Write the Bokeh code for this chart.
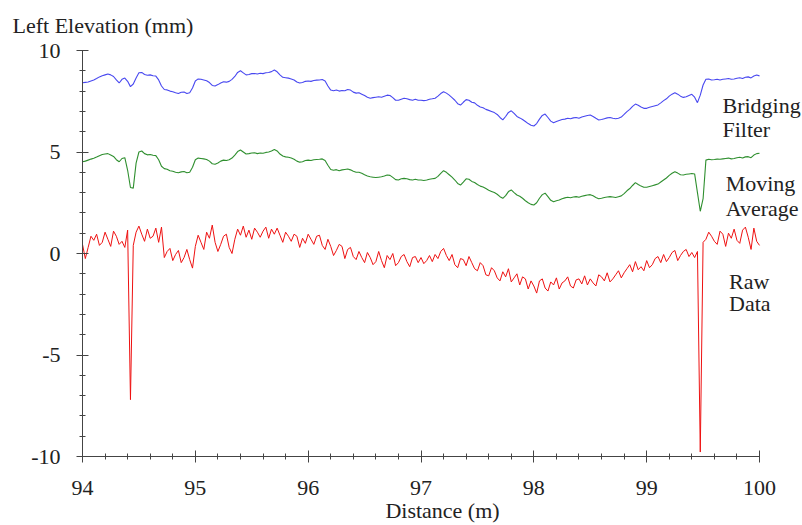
from bokeh.plotting import figure
from bokeh.models import Range1d, SingleIntervalTicker
from bokeh.core.properties import value
from bokeh.embed import file_html
from bokeh.resources import INLINE

# ---------------- data ----------------
x_start = 94.0
x_step = 0.025

bridging_filter = [
    8.41, 8.43, 8.45, 8.50, 8.55, 8.62, 8.70, 8.76, 8.80, 8.84, 8.80, 8.72, 8.55, 8.40, 8.58, 8.64, 8.48, 8.22, 8.35, 8.65,
    8.90, 8.92, 8.82, 8.78, 8.80, 8.76, 8.74, 8.55, 8.25, 8.08, 8.06, 8.00, 7.97, 7.92, 7.88, 7.94, 7.95, 7.88, 7.92, 8.15,
    8.50, 8.60, 8.58, 8.55, 8.51, 8.42, 8.28, 8.25, 8.32, 8.40, 8.46, 8.44, 8.48, 8.58, 8.72, 8.92, 9.00, 8.90, 8.80, 8.82,
    8.86, 8.87, 8.84, 8.88, 8.86, 8.90, 8.92, 8.96, 9.04, 8.95, 8.80, 8.68, 8.66, 8.64, 8.60, 8.55, 8.45, 8.40, 8.42, 8.48,
    8.50, 8.48, 8.52, 8.54, 8.55, 8.57, 8.50, 8.25, 8.05, 8.02, 8.05, 8.00, 8.03, 8.02, 8.08, 8.05, 7.95, 7.90, 7.92, 7.85,
    7.78, 7.70, 7.65, 7.68, 7.70, 7.72, 7.70, 7.75, 7.80, 7.78, 7.68, 7.55, 7.55, 7.60, 7.65, 7.62, 7.58, 7.55, 7.60, 7.55,
    7.55, 7.53, 7.55, 7.60, 7.62, 7.65, 7.75, 7.88, 7.97, 7.90, 7.80, 7.68, 7.55, 7.38, 7.31, 7.45, 7.58, 7.55, 7.45, 7.42,
    7.30, 7.22, 7.18, 7.10, 7.05, 7.00, 6.94, 6.85, 6.70, 6.58, 6.75, 6.95, 7.03, 6.90, 6.75, 6.68, 6.60, 6.50, 6.40, 6.32,
    6.28, 6.40, 6.62, 6.80, 6.87, 6.70, 6.52, 6.44, 6.50, 6.55, 6.60, 6.62, 6.66, 6.64, 6.68, 6.70, 6.66, 6.72, 6.76, 6.80,
    6.82, 6.75, 6.66, 6.58, 6.60, 6.64, 6.68, 6.70, 6.66, 6.64, 6.66, 6.72, 6.85, 6.99, 7.10, 7.25, 7.36, 7.30, 7.22, 7.15,
    7.15, 7.20, 7.24, 7.28, 7.32, 7.42, 7.53, 7.62, 7.75, 7.85, 7.92, 7.85, 7.75, 7.69, 7.72, 7.78, 7.84, 7.70, 7.43, 7.80,
    8.30, 8.58, 8.60, 8.55, 8.56, 8.58, 8.55, 8.58, 8.60, 8.62, 8.58, 8.60, 8.63, 8.66, 8.62, 8.68, 8.70, 8.65, 8.74, 8.79,
    8.75,
]

moving_average = [
    4.52, 4.55, 4.60, 4.65, 4.69, 4.75, 4.82, 4.88, 4.90, 4.92, 4.85, 4.78, 4.62, 4.52, 4.68, 4.72, 4.10, 3.25, 3.22, 4.45,
    5.00, 5.05, 4.92, 4.86, 4.88, 4.84, 4.82, 4.62, 4.30, 4.18, 4.15, 4.08, 4.05, 4.00, 3.98, 4.02, 4.04, 3.98, 4.00, 4.25,
    4.62, 4.70, 4.68, 4.66, 4.63, 4.55, 4.42, 4.40, 4.46, 4.55, 4.60, 4.58, 4.62, 4.70, 4.85, 5.02, 5.10, 5.00, 4.90, 4.92,
    4.95, 4.96, 4.92, 4.95, 4.94, 4.98, 5.00, 5.05, 5.12, 5.05, 4.90, 4.80, 4.76, 4.74, 4.70, 4.64, 4.55, 4.50, 4.52, 4.58,
    4.60, 4.58, 4.62, 4.63, 4.64, 4.66, 4.58, 4.35, 4.14, 4.10, 4.13, 4.08, 4.12, 4.14, 4.16, 4.12, 4.05, 4.00, 4.00, 3.95,
    3.88, 3.82, 3.78, 3.76, 3.74, 3.76, 3.78, 3.82, 3.87, 3.85, 3.75, 3.64, 3.62, 3.68, 3.70, 3.68, 3.64, 3.62, 3.66, 3.62,
    3.62, 3.60, 3.62, 3.66, 3.68, 3.70, 3.80, 3.95, 4.08, 4.00, 3.88, 3.76, 3.62, 3.45, 3.37, 3.52, 3.68, 3.66, 3.55, 3.50,
    3.40, 3.32, 3.28, 3.20, 3.12, 3.06, 3.00, 2.92, 2.80, 2.72, 2.85, 3.05, 3.13, 3.00, 2.88, 2.82, 2.72, 2.60, 2.50, 2.42,
    2.39, 2.50, 2.72, 2.90, 2.97, 2.80, 2.62, 2.55, 2.60, 2.64, 2.70, 2.74, 2.77, 2.75, 2.78, 2.80, 2.77, 2.82, 2.85, 2.88,
    2.90, 2.84, 2.76, 2.70, 2.72, 2.76, 2.78, 2.80, 2.78, 2.76, 2.80, 2.84, 2.95, 3.09, 3.20, 3.35, 3.49, 3.40, 3.32, 3.26,
    3.26, 3.30, 3.34, 3.38, 3.42, 3.52, 3.62, 3.72, 3.85, 3.95, 4.03, 3.96, 3.88, 3.87, 3.90, 3.92, 3.94, 3.92, 3.00, 2.08,
    2.70, 4.60, 4.64, 4.62, 4.63, 4.65, 4.64, 4.66, 4.68, 4.70, 4.66, 4.68, 4.72, 4.74, 4.70, 4.76, 4.77, 4.72, 4.85, 4.92,
    4.94,
]

raw_data = [
    0.45, -0.25, 0.30, 0.85, 0.65, 0.95, 0.40, 0.55, 1.05, 0.70, 0.35, 1.10, 0.85, 0.45, 0.60, 0.30, 1.15, -7.20, 0.40, 1.05,
    1.35, 0.95, 0.60, 1.20, 0.75, 0.85, 1.25, 0.55, 1.30, -0.20, 0.10, 0.25, -0.35, -0.05, 0.15, -0.45, -0.20, 0.20, -0.30, -0.72,
    0.35, 0.90, 0.55, 0.20, 1.05, 0.75, 1.40, 0.55, 0.10, 0.45, 0.85, 0.95, 0.30, 0.00, 0.70, 1.20, 0.90, 1.35, 0.80, 1.15,
    0.70, 1.25, 1.05, 0.80, 1.10, 1.30, 0.75, 1.20, 0.95, 1.25, 0.90, 0.55, 1.05, 0.85, 0.60, 0.95, 0.85, 0.30, 0.75, 0.50,
    0.95, 0.70, 0.45, 0.85, 0.90, 0.40, 0.20, 0.70, 0.35, -0.10, 0.15, 0.45, 0.35, -0.25, 0.20, 0.30, -0.15, -0.30, 0.10, -0.20,
    -0.45, 0.05, -0.20, -0.55, -0.40, 0.10, -0.35, -0.70, -0.10, -0.30, 0.00, -0.60, -0.45, -0.15, -0.05, -0.40, -0.65, -0.20, -0.15, -0.45,
    -0.20, -0.50, -0.35, -0.10, -0.40, -0.05, -0.25, 0.10, 0.25, -0.10, -0.35, -0.05, -0.55, -0.70, -0.25, -0.30, -0.60, -0.15, -0.45, -0.75,
    -0.85, -0.45, -0.60, -1.05, -1.10, -0.70, -0.85, -1.20, -1.35, -0.90, -1.15, -0.75, -1.40, -1.20, -1.00, -1.55, -1.15, -1.25, -1.75, -1.35,
    -1.60, -1.95, -1.35, -1.25, -1.70, -1.85, -1.40, -1.55, -1.20, -1.75, -1.45, -1.35, -1.15, -1.60, -1.70, -1.30, -1.25, -1.50, -1.10, -1.55,
    -1.25, -1.45, -1.60, -1.05, -1.15, -1.35, -0.95, -1.40, -1.25, -1.05, -0.85, -1.20, -0.95, -0.75, -0.55, -0.90, -0.40, -0.80, -0.65, -0.85,
    -0.35, -0.70, -0.55, -0.25, -0.15, -0.45, -0.05, -0.40, -0.20, 0.05, 0.15, -0.35, -0.10, 0.10, 0.20, -0.15, 0.05, -0.20, 0.10, -9.78,
    0.55, 0.70, 1.05, 0.85, 0.60, 0.45, 1.10, 0.95, 0.35, 1.00, 0.75, 1.20, 0.65, 0.50, 1.15, 1.30, 0.80, 0.20, 1.25, 0.60,
    0.40,
]

series_names = ["Bridging Filter", "Moving Average", "Raw Data"]
title_text = "Left Elevation (mm)"
x_label = "Distance (m)"

# ---------------- figure ----------------
SERIF = "Liberation Serif"
TEXT_COLOR = "#222222"
AXIS_COLOR = "#444444"
FONT_SIZE = "22px"

def xs_for(vals):
    return [x_start + x_step * i for i in range(len(vals))]

p = figure(
    width=802, height=525,
    x_range=Range1d(94, 100.381), y_range=Range1d(-10, 10),
    output_backend="svg", toolbar_location=None,
    min_border_left=82, min_border_right=0, min_border_top=50, min_border_bottom=69,
)
p.outline_line_color = None
p.xgrid.visible = False
p.ygrid.visible = False
p.background_fill_color = "white"
p.border_fill_color = "white"

p.title.text = title_text
p.title.text_font = SERIF
p.title.text_font_size = FONT_SIZE
p.title.text_font_style = "normal"
p.title.text_color = TEXT_COLOR
p.title.align = "left"
p.title.offset = -70
p.title.standoff = 22
p.title.vertical_align = "top"

p.line(xs_for(bridging_filter), bridging_filter, line_color="#4848f0", line_width=1.1)
p.line(xs_for(moving_average), moving_average, line_color="#2f8f2f", line_width=1.1)
p.line(xs_for(raw_data), raw_data, line_color="#ee1111", line_width=1.0)

# series labels at right (two lines each)
label_lines = [("Bridging", 99.672, 7.29), ("Filter", 99.672, 6.12),
               ("Moving", 99.70, 3.45), ("Average", 99.70, 2.22),
               ("Raw", 99.73, -1.38), ("Data", 99.73, -2.46)]
for txt, lx, ly in label_lines:
    p.text(x=[lx], y=[ly], text=[txt], text_font=value(SERIF), text_font_size=FONT_SIZE,
           text_color=TEXT_COLOR, text_baseline="alphabetic", text_align="left")

for ax in (p.xaxis[0], p.yaxis[0]):
    ax.axis_line_color = AXIS_COLOR
    ax.major_tick_line_color = AXIS_COLOR
    ax.minor_tick_line_color = AXIS_COLOR
    ax.major_tick_in = 6
    ax.major_tick_out = 6
    ax.minor_tick_in = 3
    ax.minor_tick_out = 3
    ax.major_label_text_font = SERIF
    ax.major_label_text_font_size = FONT_SIZE
    ax.major_label_text_color = TEXT_COLOR

p.xaxis.ticker = SingleIntervalTicker(interval=1, num_minor_ticks=5)
p.yaxis.ticker = SingleIntervalTicker(interval=5, num_minor_ticks=5)
p.yaxis.major_label_overrides = {-10: "-10", -5: "-5", 0: "0", 5: "5", 10: "10"}
p.xaxis.bounds = (94, 100)
p.yaxis.bounds = (-10, 10)
p.xaxis.major_label_standoff = 18
p.yaxis.major_label_standoff = 16
p.xaxis.axis_label = x_label
p.xaxis.axis_label_text_font = SERIF
p.xaxis.axis_label_text_font_size = FONT_SIZE
p.xaxis.axis_label_text_font_style = "normal"
p.xaxis.axis_label_text_color = TEXT_COLOR
p.xaxis.axis_label_standoff = 0

open("out.html", "w").write(file_html(p, INLINE))
